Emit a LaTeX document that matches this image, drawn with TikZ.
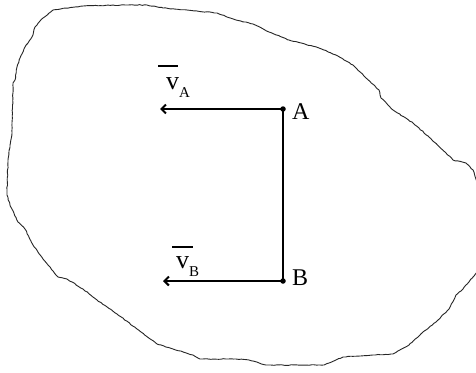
\documentclass[tikz,border=0pt]{standalone}
\usepackage{fontspec}
\setmainfont{Liberation Serif}
\usetikzlibrary{arrows.meta,decorations.pathmorphing}
\tikzset{
  outline/.style={line width=0.9pt, black!85, line join=round,
    decorate, decoration={random steps, segment length=2.5pt, amplitude=0.35pt}},
  velocity/.style={line width=2.6pt, -{Straight Barb[length=4.5pt,width=9pt,line width=2pt]}},
  link/.style={line width=1.2pt},
  ptdot/.style={circle, fill=black, inner sep=0pt, minimum size=5.5pt},
  ptlabel/.style={inner sep=0pt, anchor=base west, font=\fontsize{24}{24}\selectfont},
  vlabel/.style={inner sep=0pt, anchor=base west, font=\fontsize{26}{26}\selectfont},
  vbar/.style={line width=1.1pt}
}
\newcommand{\vsub}[1]{v\raisebox{-8pt}{\fontsize{15}{15}\selectfont #1}}
\begin{document}
\begin{tikzpicture}[x=1pt,y=-1pt]
\useasboundingbox (0,0) rectangle (476,372);
\fill[white] (0,0) rectangle (476,372);
\pgfmathsetseed{7}
\begin{scope}
\clip (0,0) rectangle (476,372);
\draw[outline] (53,10) -- (83,6) -- (127,5) -- (147,5) -- (163,8) -- (187,10) -- (217,13) -- (236,20) -- (253,24) -- (269,32) -- (289,40) -- (319,48) -- (336,55) -- (353,65) -- (366,78) -- (379,90) -- (381,98) -- (393,110) -- (413,123) -- (429,137) -- (446,153) -- (453,160) -- (466,163) -- (473,170) -- (477,182) -- (479,230) -- (477,272) -- (463,289) -- (456,295) -- (449,309) -- (436,322) -- (423,332) -- (409,345) -- (393,354) -- (373,355) -- (343,357) -- (336,360) -- (324,365) -- (266,365) -- (249,360) -- (236,359) -- (200,359) -- (193,355) -- (173,349) -- (157,344) -- (137,329) -- (117,314) -- (97,300) -- (83,289) -- (67,279) -- (58,277) -- (43,259) -- (33,245) -- (25,229) -- (18,222) -- (10,205) -- (7,195) -- (7,190) -- (8,160) -- (12,133) -- (13,83) -- (15,80) -- (17,67) -- (20,58) -- (25,47) -- (32,37) -- (35,27) -- (43,18) -- cycle;
\end{scope}
% points
\node[ptdot] (A) at (283,109) {};
\node[ptdot] (B) at (283,281) {};
\coordinate (vAend) at (160,109);
\coordinate (vBend) at (163,281);
\draw[link] (A.center) -- (B.center);
\draw[velocity] (A.center) -- (vAend);
\draw[velocity] (B.center) -- (vBend);
% labels
\node[ptlabel] (labA) at (292,119) {A};
\node[ptlabel] (labB) at (292,285) {B};
\node[vlabel] (labvA) at (166,89) {\vsub{A}};
\node[vlabel] (labvB) at (176,268) {\vsub{B}};
\draw[vbar] (158,66) -- (178,66);
\draw[vbar] (172,247) -- (193,247);
\end{tikzpicture}
\end{document}
